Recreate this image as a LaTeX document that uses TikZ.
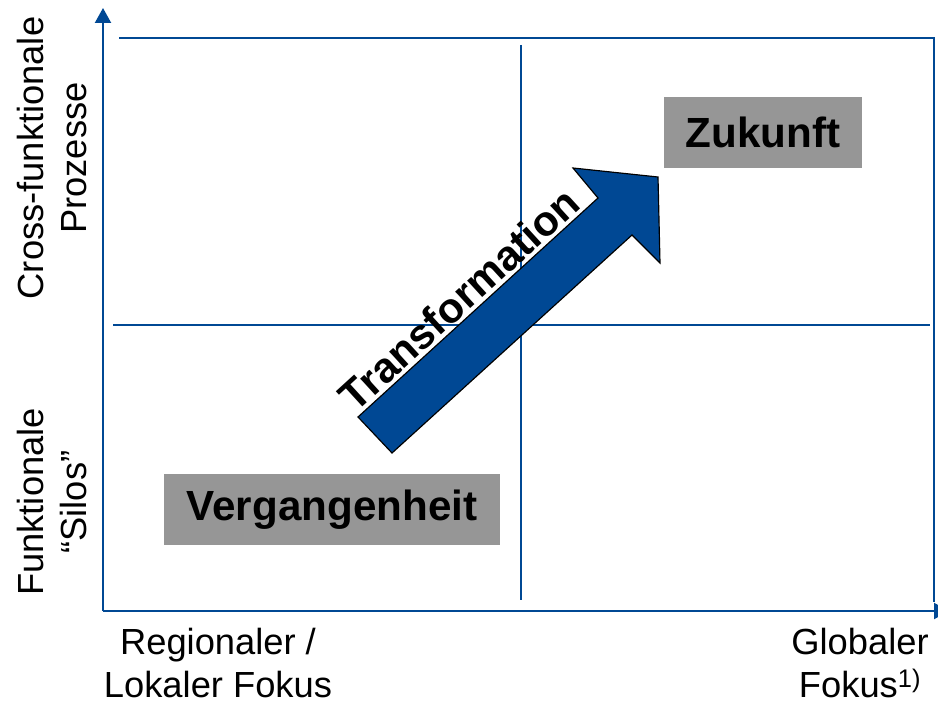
\documentclass[tikz,border=0pt]{standalone}
\usepackage{fontspec}
\setmainfont{Liberation Sans}
\usetikzlibrary{arrows.meta}
\definecolor{axisblue}{RGB}{0,72,148}
\definecolor{boxgray}{RGB}{150,150,150}
\tikzset{
  axis/.style={draw=axisblue,line width=1.7pt,-{Triangle[length=12.8pt,width=13.7pt]}},
  grid/.style={draw=axisblue,line width=1.5pt},
  label/.style={align=center,inner sep=0pt,font=\fontsize{31}{37}\selectfont},
  stage/.style={fill=boxgray,inner sep=0pt,minimum height=21.3mm,font=\fontsize{36}{43}\selectfont\bfseries}
}
\begin{document}
\begin{tikzpicture}[x=0.3mm,y=-0.3mm]
\useasboundingbox (0,0) rectangle (938,705);
\clip (0,0) rectangle (938,705);
\coordinate (O) at (103,611);
\coordinate (Y) at (103,8);
\coordinate (X) at (949,611);
\draw[grid] (119,38) -- (934,38) -- (934,602);
\draw[grid] (521,45) -- (521,600);
\draw[grid] (113,325) -- (930,325);
\draw[axis] (O) -- (Y);
\draw[axis] (O) -- (X);
\node[label,rotate=90] (top) at (52,158) {Cross-funktionale\\Prozesse};
\node[label,rotate=90] (low) at (52,502) {Funktionale\\“Silos”};
\node[label] (loc) at (218,663) {Regionaler /\\Lokaler Fokus};
\node[label] (glob) at (860,663) {Globaler\\Fokus\textsuperscript{1)}};
\node[stage,minimum width=100.8mm] (past) at (332,509.5) {Vergangenheit};
\node[stage,minimum width=59.4mm] (future) at (763,132.5) {Zukunft};
% block arrow
\coordinate (A) at (358,417);
\coordinate (B) at (598,198);
\coordinate (C) at (573,168);
\coordinate (D) at (658,177);
\coordinate (E) at (660,263);
\coordinate (F) at (632,235);
\coordinate (G) at (392,453);
\filldraw[fill=axisblue,draw=black,line width=1pt] (A) -- (B) -- (C) -- (D) -- (E) -- (F) -- (G) -- cycle;
\node[rotate=42.4,inner sep=0pt,font=\fontsize{36}{43}\selectfont\bfseries] (trans) at (459,299) {Transformation};
\end{tikzpicture}
\end{document}
